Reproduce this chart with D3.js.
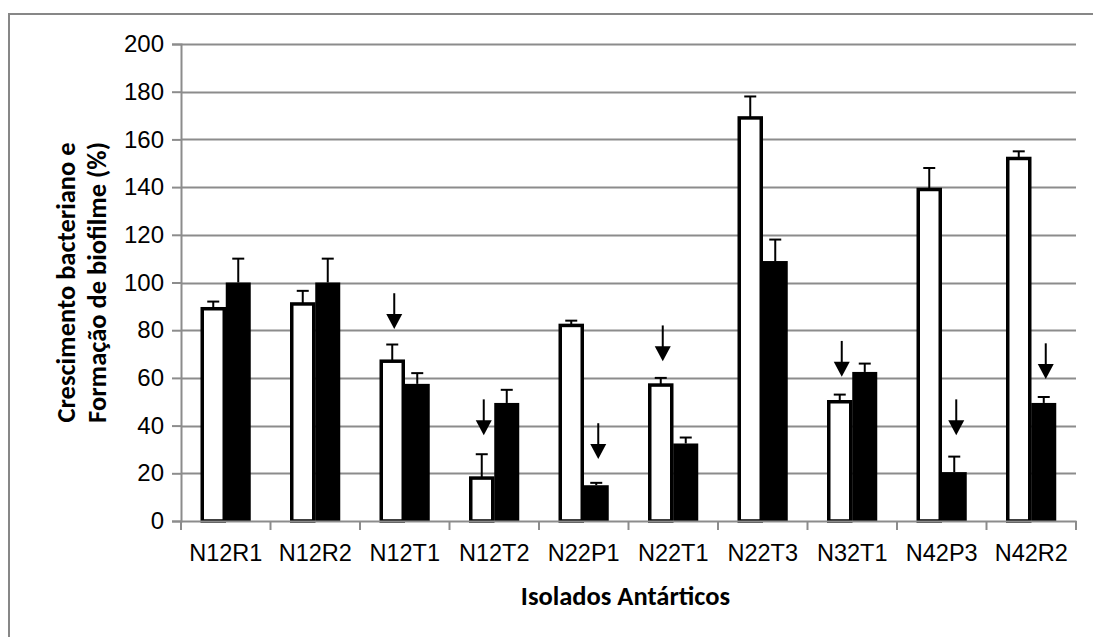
<!DOCTYPE html>
<html>
<head>
<meta charset="utf-8">
<script src="https://cdn.jsdelivr.net/npm/d3@7"></script>
<style>
  html, body { margin: 0; padding: 0; background: #fff; }
  svg { display: block; font-family: Carlito, "Open Sans", sans-serif; }
</style>
</head>
<body>
<svg id="chart"></svg>
<script>
// isolates on the x axis
const categories = ["N12R1", "N12R2", "N12T1", "N12T2", "N22P1", "N22T1", "N22T3", "N32T1", "N42P3", "N42R2"];

// white bars (bacterial growth) and black bars (biofilm), with error bar tops
const growth = [89, 91, 67, 18, 82, 57, 169, 50, 139, 152];
const growthErr = [3, 5.5, 7, 10, 2, 3, 9, 3, 9, 3];
const biofilm = [100, 100, 57.5, 49.5, 15, 32.5, 109, 62.5, 20.5, 49.5];
const biofilmErr = [10, 10, 4.5, 5.5, 1, 2.5, 9, 3.5, 6.5, 2.5];

const yTicks = [0, 20, 40, 60, 80, 100, 120, 140, 160, 180, 200];

// down arrows: which bar they mark, top and tip in y units
const arrowCats = ["N12T1", "N12T2", "N22P1", "N22T1", "N32T1", "N42P3", "N42R2"];
const arrowSeries = ["growth", "growth", "biofilm", "growth", "growth", "biofilm", "biofilm"];
const arrowTop = [95.5, 51, 41, 82, 75.5, 51, 74.5];
const arrowTip = [80.5, 36, 26, 67, 60.5, 36, 59.5];

const W = 1093, H = 637;
const margin = { top: 44, right: 17, bottom: 116, left: 181 };
const width = W - margin.left - margin.right;
const height = H - margin.top - margin.bottom;

const svg = d3.select("#chart").attr("width", W).attr("height", H);

// outer chart frame
svg.append("rect")
  .attr("x", 9).attr("y", 14)
  .attr("width", W).attr("height", H)
  .attr("fill", "none")
  .attr("stroke", "#878787")
  .attr("stroke-width", 2);

const g = svg.append("g").attr("transform", `translate(${margin.left},${margin.top})`);

const x = d3.scaleBand().domain(categories).range([0, width]);
const y = d3.scaleLinear().domain([0, 200]).range([height, 0]);
const barW = x.bandwidth() / 3.58;

// grid
g.selectAll(".grid")
  .data(yTicks.slice(1))
  .join("line")
  .attr("class", "grid")
  .attr("x1", 0).attr("x2", width)
  .attr("y1", d => Math.round(y(d)) + 0.5).attr("y2", d => Math.round(y(d)) + 0.5)
  .attr("stroke", "#8c8c8c")
  .attr("stroke-width", 2);

const yAxis = g.append("g")
  .call(d3.axisLeft(y).tickValues(yTicks).tickSize(9).tickPadding(8));
yAxis.select(".domain").attr("stroke", "#8c8c8c").attr("stroke-width", 2);
yAxis.selectAll(".tick line").attr("stroke", "#8c8c8c").attr("stroke-width", 2);
yAxis.selectAll("text").attr("font-size", 24).attr("fill", "#000");

function barX(cat, series) {
  return x(cat) + x.bandwidth() / 2 + (series === "growth" ? -barW : 0);
}

// white bars
g.selectAll(".gbar")
  .data(categories)
  .join("rect")
  .attr("class", "gbar")
  .attr("x", d => barX(d, "growth") + 1.5)
  .attr("y", (d, i) => y(growth[i]))
  .attr("width", barW - 3)
  .attr("height", (d, i) => height - y(growth[i]))
  .attr("fill", "#fff")
  .attr("stroke", "#000")
  .attr("stroke-width", 3.5);

// black bars
g.selectAll(".bbar")
  .data(categories)
  .join("rect")
  .attr("class", "bbar")
  .attr("x", d => barX(d, "biofilm"))
  .attr("y", (d, i) => y(biofilm[i]))
  .attr("width", barW)
  .attr("height", (d, i) => height - y(biofilm[i]))
  .attr("fill", "#000");

// error bars
function errBars(cls, series, vals, errs) {
  const eg = g.selectAll("." + cls)
    .data(categories)
    .join("g")
    .attr("class", cls)
    .attr("transform", d => `translate(${barX(d, series) + barW / 2},0)`);
  eg.append("line")
    .attr("y1", (d, i) => y(vals[i]))
    .attr("y2", (d, i) => y(vals[i] + errs[i]))
    .attr("stroke", "#000").attr("stroke-width", 2);
  eg.append("line")
    .attr("x1", -6).attr("x2", 6)
    .attr("y1", (d, i) => y(vals[i] + errs[i]))
    .attr("y2", (d, i) => y(vals[i] + errs[i]))
    .attr("stroke", "#000").attr("stroke-width", 2);
}
errBars("gerr", "growth", growth, growthErr);
errBars("berr", "biofilm", biofilm, biofilmErr);

// x axis
const xAxis = g.append("g")
  .attr("transform", `translate(0,${height})`)
  .call(d3.axisBottom(x).tickSize(0).tickPadding(23));
xAxis.select(".domain").attr("stroke", "#8c8c8c").attr("stroke-width", 2);
xAxis.selectAll("text").attr("font-size", 23.5).attr("fill", "#000");

// category boundary ticks
g.selectAll(".xtick")
  .data(d3.range(categories.length + 1))
  .join("line")
  .attr("class", "xtick")
  .attr("x1", i => i * x.step()).attr("x2", i => i * x.step())
  .attr("y1", height).attr("y2", height + 9)
  .attr("stroke", "#8c8c8c").attr("stroke-width", 2);

// arrows
const arrows = g.selectAll(".arrow")
  .data(arrowCats)
  .join("g")
  .attr("class", "arrow")
  .attr("transform", (d, i) => `translate(${barX(d, arrowSeries[i]) + barW / 2 + 2},0)`);
arrows.append("line")
  .attr("y1", (d, i) => y(arrowTop[i]))
  .attr("y2", (d, i) => y(arrowTip[i]) - 10)
  .attr("stroke", "#000").attr("stroke-width", 2);
arrows.append("path")
  .attr("d", (d, i) => {
    const t = y(arrowTip[i]);
    return `M-8,${t - 15}L8,${t - 15}L0,${t}Z`;
  })
  .attr("fill", "#000");

// axis titles
svg.append("text")
  .attr("x", margin.left + width / 2 - 3)
  .attr("y", 605)
  .attr("text-anchor", "middle")
  .attr("font-size", 26.5)
  .attr("font-weight", "bold")
  .text("Isolados Antárticos");

const yt = svg.append("text")
  .attr("transform", `translate(75,${margin.top + height / 2}) rotate(-90)`)
  .attr("text-anchor", "middle")
  .attr("font-size", 26.5)
  .attr("font-weight", "bold");
yt.append("tspan").attr("x", 0).attr("y", 0).text("Crescimento bacteriano e");
yt.append("tspan").attr("x", 0).attr("y", 31).text("Formação de biofilme (%)");
</script>
</body>
</html>
